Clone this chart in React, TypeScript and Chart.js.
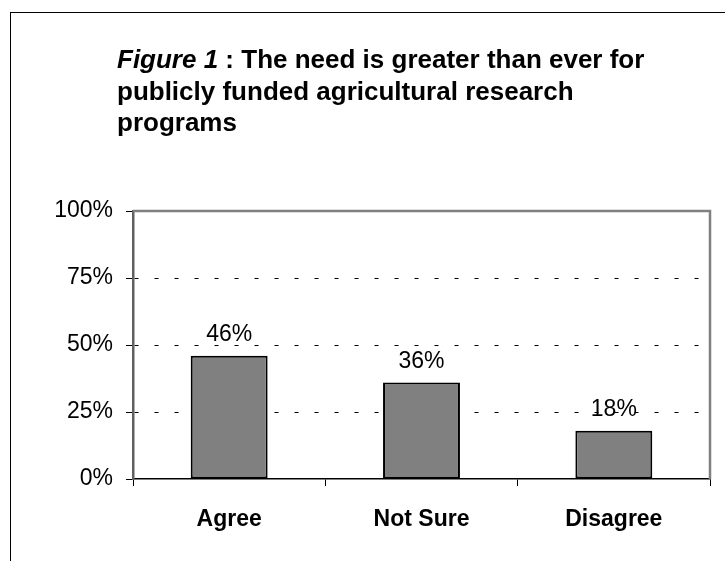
import React, { useEffect, useRef } from "react";
import { Chart, registerables } from "chart.js";

Chart.register(...registerables);

const categories: string[] = ["Agree", "Not Sure", "Disagree"];
const values: number[] = [46, 36, 18];
const yTicks: number[] = [0, 25, 50, 75, 100];
const titleItalic = "Figure 1";
const titleLines: string[] = [
  " : The need is greater than ever for",
  "publicly funded agricultural research",
  "programs",
];

const FONT = "'Liberation Sans', Arial, Helvetica, sans-serif";

const frameBorder = {
  id: "frameBorder",
  afterDatasetsDraw(chart: any) {
    const { ctx, chartArea } = chart;
    ctx.save();
    ctx.strokeStyle = "#808080";
    ctx.lineWidth = 2.5;
    ctx.beginPath();
    ctx.moveTo(chartArea.left, chartArea.top);
    ctx.lineTo(chartArea.right, chartArea.top);
    ctx.lineTo(chartArea.right, chartArea.bottom);
    ctx.stroke();
    ctx.restore();
  },
};

const valueLabels = {
  id: "valueLabels",
  afterDatasetsDraw(chart: any) {
    const { ctx } = chart;
    const meta = chart.getDatasetMeta(0);
    ctx.save();
    ctx.font = `23px ${FONT}`;
    ctx.fillStyle = "#000";
    ctx.textAlign = "center";
    ctx.textBaseline = "alphabetic";
    meta.data.forEach((bar: any, i: number) => {
      ctx.fillText(`${values[i]}%`, bar.x, bar.y - 15);
    });
    ctx.restore();
  },
};

export default function App() {
  const canvasRef = useRef<HTMLCanvasElement | null>(null);

  useEffect(() => {
    if (!canvasRef.current) return;
    Chart.defaults.font.family = FONT;
    const chart = new Chart(canvasRef.current, {
      type: "bar",
      data: {
        labels: categories,
        datasets: [
          {
            data: values,
            backgroundColor: "#808080",
            borderColor: "#000",
            borderWidth: 2,
            borderSkipped: false,
            categoryPercentage: 1,
            barPercentage: 0.4,
          },
        ],
      },
      options: {
        animation: false,
        responsive: false,
        maintainAspectRatio: false,
        layout: { padding: { top: 211, right: 15, left: 0, bottom: 0 } },
        plugins: {
          legend: { display: false },
          title: { display: false },
          tooltip: { enabled: false },
        },
        scales: {
          x: {
            grid: {
              offset: true,
              drawOnChartArea: false,
              tickLength: 7,
              tickColor: "#000",
              color: "#000",
            },
            border: { display: true, color: "#000", width: 1.5 },
            ticks: {
              color: "#000",
              padding: 20,
              font: { size: 23, weight: "bold" },
            },
            afterFit(scale: any) {
              scale.height = 82;
            },
          },
          y: {
            min: yTicks[0],
            max: yTicks[yTicks.length - 1],
            afterBuildTicks(scale: any) {
              scale.ticks = yTicks.map((v) => ({ value: v }));
            },
            grid: {
              tickLength: 7,
              tickColor: "#000",
              color: (ctx: any) => {
                const v = ctx.tick ? ctx.tick.value : null;
                return v === 25 || v === 50 || v === 75 ? "#000" : "rgba(0,0,0,0)";
              },
            },
            border: { display: true, color: "#606060", width: 2.5, dash: [4, 16] },
            ticks: {
              color: "#000",
              padding: 13,
              font: { size: 23 },
              callback: (v: any) => `${v}%`,
            },
            afterFit(scale: any) {
              scale.width = 133;
            },
          },
        },
      },
      plugins: [frameBorder, valueLabels],
    });
    return () => chart.destroy();
  }, []);

  return (
    <div
      style={{
        position: "fixed",
        left: 0,
        top: 0,
        width: 725,
        height: 561,
        overflow: "hidden",
        background: "#fff",
      }}
    >
      <div
        style={{
          position: "absolute",
          left: 10,
          top: 12,
          width: 2000,
          height: 2000,
          borderTop: "1.5px solid #000",
          borderLeft: "1.5px solid #000",
        }}
      />
      <canvas
        ref={canvasRef}
        width={725}
        height={561}
        style={{ position: "absolute", left: 0, top: 0, width: 725, height: 561 }}
      />
      <div
        style={{
          position: "absolute",
          left: 117,
          top: 44,
          fontFamily: FONT,
          fontWeight: "bold",
          fontSize: 26,
          lineHeight: "31.5px",
          color: "#000",
          whiteSpace: "pre",
        }}
      >
        <i>{titleItalic}</i>
        {titleLines[0]}
        <br />
        {titleLines[1]}
        <br />
        {titleLines[2]}
      </div>
    </div>
  );
}
